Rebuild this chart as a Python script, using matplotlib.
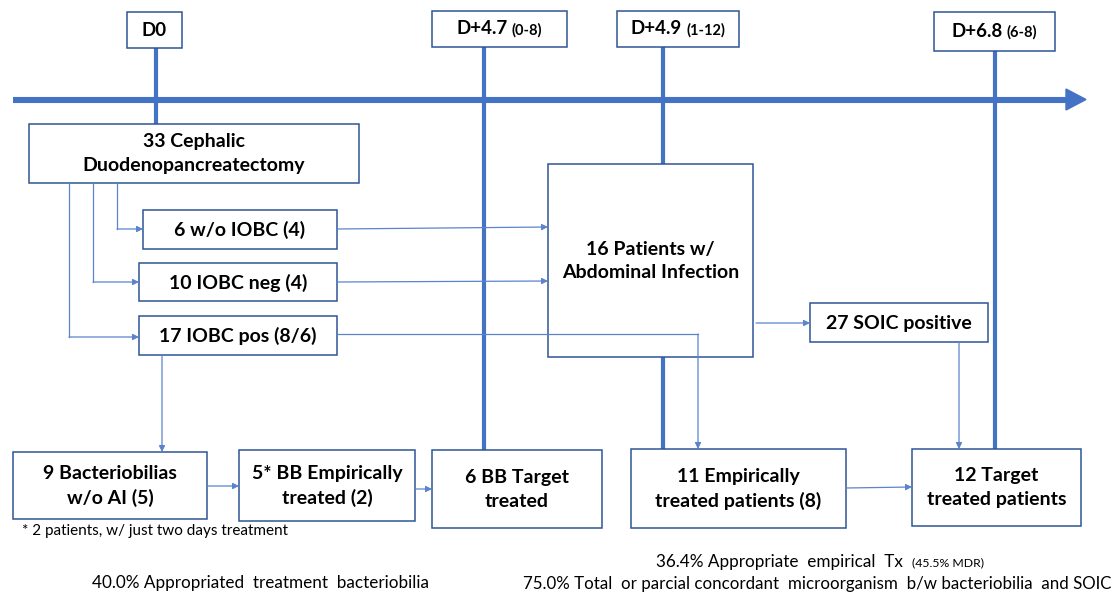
import matplotlib.pyplot as plt
from matplotlib.patches import Rectangle, Polygon

plt.rcParams['font.family'] = ['Lato', 'DejaVu Sans']

# timeline labels (mean day, range)
day_main = ["D0", "D+4.7", "D+4.9", "D+6.8"]
day_range = ["", "(0-8)", "(1-12)", "(6-8)"]

# flow boxes
box_text = [
    "33 Cephalic\nDuodenopancreatectomy",
    "6 w/o IOBC (4)",
    "10 IOBC neg (4)",
    "17 IOBC pos (8/6)",
    "16 Patients w/\nAbdominal Infection",
    "27 SOIC positive",
    "9 Bacteriobilias\nw/o AI (5)",
    "5* BB Empirically\ntreated (2)",
    "6 BB Target\ntreated",
    "11 Empirically\ntreated patients (8)",
    "12 Target\ntreated patients",
]

footnote = "* 2 patients, w/ just two days treatment"
stat_bb = "40.0% Appropriated  treatment  bacteriobilia"
stat_emp = "36.4% Appropriate  empirical  Tx"
stat_emp_small = "(45.5% MDR)"
stat_conc = "75.0% Total  or parcial concordant  microorganism  b/w bacteriobilia  and SOIC"

# ---- layout (pixel coords, y down) ----
W, H = 1118, 595
day_boxes = [(127, 12, 55, 36), (432, 11, 135, 36), (617, 11, 122, 36), (934, 12, 121, 39)]
day_x = [156, 484, 663, 995]
day_line_end = [124, 450, 449, 449]

box_xywh = [
    (29, 124, 330, 59),
    (143, 210, 194, 39),
    (139, 263, 198, 38),
    (139, 316, 198, 39),
    (548, 164, 205, 193),
    (810, 303, 178, 39),
    (13, 452, 194, 67),
    (239, 450, 176, 71),
    (432, 450, 170, 78),
    (631, 449, 215, 79),
    (912, 449, 169, 77),
]

connectors = [
    [(117, 183), (117, 229), (143, 229)],
    [(93, 183), (93, 282), (139, 282)],
    [(69, 183), (69, 337), (139, 337)],
    [(337, 229), (548, 227)],
    [(337, 282), (548, 281)],
    [(337, 334), (698, 334), (698, 449)],
    [(162, 355), (162, 452)],
    [(207, 486), (239, 486)],
    [(415, 489), (432, 489)],
    [(756, 323), (810, 323)],
    [(959, 342), (959, 449)],
    [(846, 488), (912, 487)],
]

blue = "#4472C4"
edge = "#2F5597"
thin = "#5B84CC"

fig = plt.figure(figsize=(W / 100, H / 100), dpi=100)
ax = fig.add_axes([0, 0, 1, 1])
ax.set_xlim(0, W)
ax.set_ylim(H, 0)
ax.axis("off")

# main timeline
ax.plot([13, 1068], [99.5, 99.5], color=blue, lw=4.4, solid_capstyle="butt", zorder=2)
ax.add_patch(Polygon([(1066, 89), (1086, 99.5), (1066, 110)], closed=True,
                     color=blue, zorder=2))

# day markers
for x, y1, (bx, by, bw, bh) in zip(day_x, day_line_end, day_boxes):
    ax.plot([x, x], [by + bh, y1], color=blue, lw=3.0, solid_capstyle="butt", zorder=1)

# boxes
for txt, (bx, by, bw, bh) in zip(box_text, box_xywh):
    ax.add_patch(Rectangle((bx, by), bw, bh, facecolor="white", edgecolor=edge,
                           lw=1.1, zorder=4))
    ax.text(bx + bw / 2, by + bh / 2 + 0.5, txt, ha="center", va="center",
            fontsize=14, fontweight="bold", linespacing=1.5, zorder=5)

# connectors (drawn over the boxes, like the original)
for pts in connectors:
    xs = [p[0] for p in pts]
    ys = [p[1] for p in pts]
    if len(pts) > 2:
        ax.plot(xs[:-1], ys[:-1], color=thin, lw=0.9, zorder=6)
    ax.annotate("", xy=pts[-1], xytext=pts[-2],
                arrowprops=dict(arrowstyle="-|>", color=thin, lw=0.9,
                                mutation_scale=9, shrinkA=0, shrinkB=0),
                zorder=6)

fig.canvas.draw()
rend = fig.canvas.get_renderer()


def text_width(t):
    bb = t.get_window_extent(renderer=rend)
    return bb.width  # pixels == data units here


# day label boxes with two font sizes
for main, rng, (bx, by, bw, bh) in zip(day_main, day_range, day_boxes):
    ax.add_patch(Rectangle((bx, by), bw, bh, facecolor="white", edgecolor=edge,
                           lw=1.1, zorder=4))
    cy = by + bh / 2
    t1 = ax.text(0, cy, main, ha="left", va="center", fontsize=13.5,
                 fontweight="bold", zorder=5)
    w1 = text_width(t1)
    gap = 4 if rng else 0
    w2 = 0
    t2 = None
    if rng:
        t2 = ax.text(0, cy + 1, rng, ha="left", va="center", fontsize=10.5,
                     fontweight="bold", zorder=5)
        w2 = text_width(t2)
    x0 = bx + (bw - w1 - gap - w2) / 2
    t1.set_x(x0)
    if t2 is not None:
        t2.set_x(x0 + w1 + gap)

# notes
ax.text(22, 531, footnote, ha="left", va="center", fontsize=11)
ax.text(261, 583, stat_bb, ha="center", va="center", fontsize=12.3)
t3 = ax.text(656, 562, stat_emp, ha="left", va="center", fontsize=12.3)
ax.text(656 + text_width(t3) + 9, 563, stat_emp_small, ha="left", va="center", fontsize=8.8)
ax.text(523, 584, stat_conc, ha="left", va="center", fontsize=12.2)

fig.savefig("out.png", dpi=100)
